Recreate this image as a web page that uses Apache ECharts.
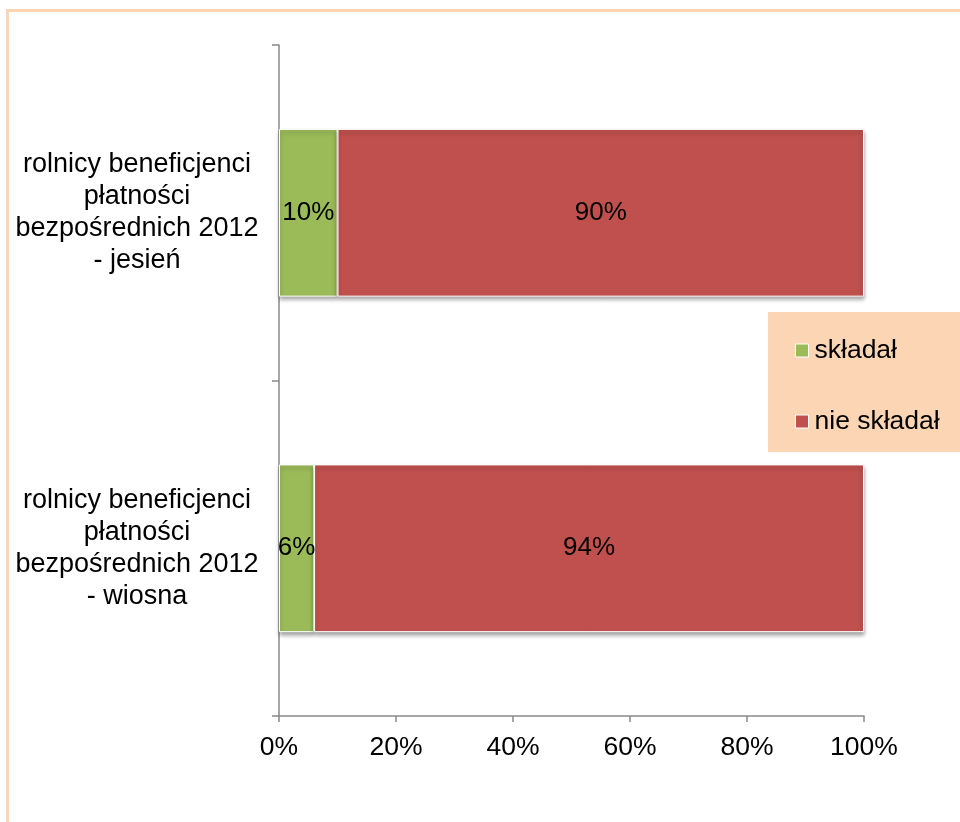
<!DOCTYPE html>
<html>
<head>
<meta charset="utf-8">
<script src="https://cdn.jsdelivr.net/npm/echarts@6/dist/echarts.min.js"></script>
<style>
html,body{margin:0;padding:0;background:#fff;}
#c{width:960px;height:822px;}
</style>
</head>
<body>
<div id="c"></div>
<script>
var categories = ['rolnicy beneficjenci\npłatności\nbezpośrednich 2012\n- jesień', 'rolnicy beneficjenci\npłatności\nbezpośrednich 2012\n- wiosna'];
var seriesNames = ['składał', 'nie składał'];
var skladal = [10, 6];
var nieSkladal = [90, 94];
var xTicks = [0, 20, 40, 60, 80, 100];

var chart = echarts.init(document.getElementById('c'), null, {renderer: 'canvas'});
var font = 'Liberation Sans, Arial, sans-serif';
function barSeries(name, data, color) {
  return {
    name: name, type: 'bar', stack: 'total', data: data, barWidth: '50%',
    itemStyle: {color: color, borderColor: '#fff', borderWidth: 1,
      shadowColor: 'rgba(0,0,0,0.35)', shadowBlur: 4, shadowOffsetY: 3},
    label: {show: true, position: 'inside', formatter: '{c}%', color: '#000', fontSize: 26, fontFamily: font}
  };
}
chart.setOption({
  animation: false,
  graphic: [{type: 'rect', shape: {x: 7.5, y: 10.5, width: 2000, height: 2000}, style: {fill: 'none', stroke: '#FCD5B4', lineWidth: 3}, z: 100}],
  grid: {left: 279, right: 96, top: 45, bottom: 106},
  legend: {
    orient: 'vertical', left: 768, top: 312,
    backgroundColor: '#FCD5B4', padding: [25, 60, 17, 27], itemGap: 44,
    itemWidth: 13, itemHeight: 13, icon: 'rect',
    itemStyle: {borderColor: '#fff', borderWidth: 1},
    textStyle: {fontSize: 26.5, color: '#000', fontFamily: font, padding: [0, 0, 0, 1]},
    data: seriesNames
  },
  xAxis: {
    type: 'value', min: 0, max: 100, interval: 20,
    axisLine: {show: true, lineStyle: {color: '#898989', width: 1.5}},
    axisTick: {show: true, length: 6, lineStyle: {color: '#898989', width: 1.5}},
    splitLine: {show: false},
    axisLabel: {formatter: '{value}%', fontSize: 26.5, color: '#000', fontFamily: font, margin: 18}
  },
  yAxis: {
    type: 'category', data: categories, inverse: true,
    axisLine: {show: true, lineStyle: {color: '#898989', width: 1.5}},
    axisTick: {show: true, length: 7, lineStyle: {color: '#898989', width: 1.5}},
    axisLabel: {fontSize: 27, color: '#000', fontFamily: font, align: 'center', margin: 142, lineHeight: 32}
  },
  series: [barSeries(seriesNames[0], skladal, '#9BBB59'), barSeries(seriesNames[1], nieSkladal, '#C0504D')]
});
</script>
</body>
</html>
